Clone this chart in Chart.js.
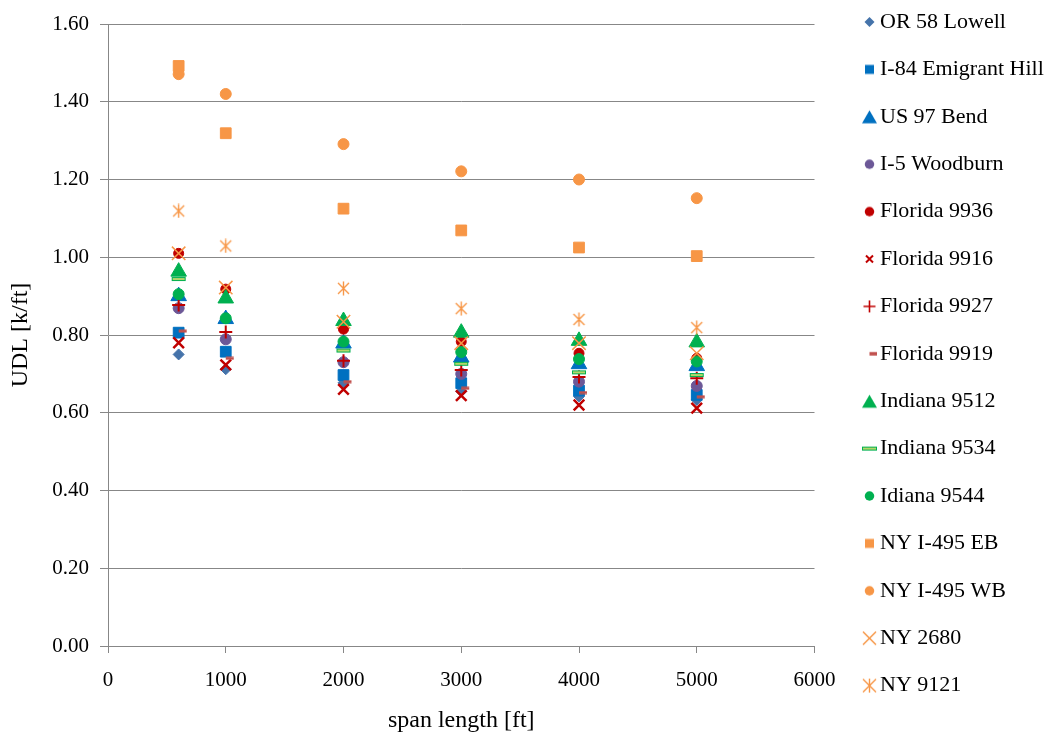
<!DOCTYPE html>
<html>
<head>
<meta charset="utf-8">
<script src="https://cdn.jsdelivr.net/npm/chart.js@4.4.1/dist/chart.umd.min.js"></script>
<style>
html,body{margin:0;padding:0;background:#ffffff;}
#wrap{position:relative;width:1048px;height:738px;}
</style>
</head>
<body>
<div id="wrap"><canvas id="c" width="1048" height="738"></canvas></div>
<script>
// ---- data ----
const spanLengths = [600, 1000, 2000, 3000, 4000, 5000];
const seriesNames = ['OR 58 Lowell','I-84 Emigrant Hill','US 97 Bend','I-5 Woodburn','Florida 9936','Florida 9916','Florida 9927','Florida 9919','Indiana 9512','Indiana 9534','Idiana 9544','NY I-495 EB','NY I-495 WB','NY 2680','NY 9121'];
const or58Lowell      = [0.750, 0.712, 0.677, 0.655, 0.642, 0.633];
const i84EmigrantHill = [0.806, 0.757, 0.697, 0.676, 0.657, 0.646];
const us97Bend        = [0.900, 0.841, 0.778, 0.742, 0.725, 0.720];
const i5Woodburn      = [0.869, 0.789, 0.730, 0.700, 0.680, 0.669];
const florida9936     = [1.010, 0.918, 0.815, 0.783, 0.753, 0.740];
const florida9916     = [0.780, 0.723, 0.660, 0.644, 0.620, 0.612];
const florida9927     = [0.877, 0.808, 0.734, 0.710, 0.692, 0.689];
const florida9919     = [0.810, 0.740, 0.680, 0.663, 0.652, 0.641];
const indiana9512     = [0.963, 0.894, 0.836, 0.806, 0.785, 0.781];
const indiana9534     = [0.944, null,  0.760, 0.726, 0.704, 0.697];
const idiana9544      = [0.905, 0.843, 0.783, 0.756, 0.738, 0.732];
const nyI495EB        = [1.492, 1.319, 1.125, 1.069, 1.025, 1.003];
const nyI495WB        = [1.471, 1.420, 1.291, 1.221, 1.200, 1.152];
const ny2680          = [1.010, 0.922, 0.834, 0.779, 0.779, 0.753];
const ny9121          = [1.119, 1.029, 0.920, 0.868, 0.840, 0.819];
const seriesValues = [or58Lowell,i84EmigrantHill,us97Bend,i5Woodburn,florida9936,florida9916,florida9927,florida9919,indiana9512,indiana9534,idiana9544,nyI495EB,nyI495WB,ny2680,ny9121];
const xTickStep = 1000, xMax = 6000;
const yTickStep = 0.2, yMax = 1.6;

// ---- marker images ----
function mk(w,h,fn){const c=document.createElement('canvas');c.width=w;c.height=h;fn(c.getContext('2d'));return c;}
const dashRed = mk(24,4,g=>{g.fillStyle='#C0504D';g.fillRect(12,0.5,8,3);});
const dashGreen = mk(16,6,g=>{g.fillStyle='#00B050';g.fillRect(1,1,14,4);g.fillStyle='#B3D66A';g.fillRect(2,2,12,2);});
const starOrange = mk(15,15,g=>{g.strokeStyle='#F79646';g.lineWidth=1.4;g.beginPath();
  g.moveTo(2,2);g.lineTo(13,13);g.moveTo(13,2);g.lineTo(2,13);g.moveTo(7.5,0.5);g.lineTo(7.5,14.5);g.stroke();});

// legend icons (drawn around the icon centre)
function icon(fn){return mk(26,20,g=>{g.translate(14.5,10);fn(g);});}
const shp = {
  diamond:(c,s)=>g=>{g.fillStyle=c;g.beginPath();g.moveTo(0,-s);g.lineTo(s,0);g.lineTo(0,s);g.lineTo(-s,0);g.closePath();g.fill();},
  square:(c,s)=>g=>{g.fillStyle=c;g.fillRect(-s/2,-s/2,s,s);},
  tri:(c,w,h)=>g=>{g.fillStyle=c;g.beginPath();g.moveTo(0,-h/2);g.lineTo(w/2,h/2);g.lineTo(-w/2,h/2);g.closePath();g.fill();},
  circle:(c,d)=>g=>{g.fillStyle=c;g.beginPath();g.arc(0,0,d/2,0,Math.PI*2);g.fill();},
  x:(c,s,lw)=>g=>{g.strokeStyle=c;g.lineWidth=lw;g.beginPath();g.moveTo(-s/2,-s/2);g.lineTo(s/2,s/2);g.moveTo(s/2,-s/2);g.lineTo(-s/2,s/2);g.stroke();},
  plus:(c,s,lw)=>g=>{g.strokeStyle=c;g.lineWidth=lw;g.beginPath();g.moveTo(-s/2,0);g.lineTo(s/2,0);g.moveTo(0,-s/2);g.lineTo(0,s/2);g.stroke();},
  star:(c,s,lw)=>g=>{g.strokeStyle=c;g.lineWidth=lw;g.beginPath();g.moveTo(-s/2,-s/2);g.lineTo(s/2,s/2);g.moveTo(s/2,-s/2);g.lineTo(-s/2,s/2);g.moveTo(0,-s/2-0.5);g.lineTo(0,s/2+0.5);g.stroke();},
  dash:(c,x0,w,h)=>g=>{g.fillStyle=c;g.fillRect(x0,-h/2,w,h);},
  dashG:()=>g=>{g.fillStyle='#00B050';g.fillRect(-7.5,-2,15,4);g.fillStyle='#B3D66A';g.fillRect(-6.5,-1,13,2);}
};
const legendIcons = [
  icon(shp.diamond('#4573AA',5)),
  icon(shp.square('#0070C0',9)),
  icon(shp.tri('#0070C0',15,13)),
  icon(shp.circle('#6C5897',9.5)),
  icon(shp.circle('#C00000',9.5)),
  icon(shp.x('#C00000',7,2)),
  icon(shp.plus('#C00000',12,1.6)),
  icon(shp.dash('#C0504D',0,7.5,3.5)),
  icon(shp.tri('#00B050',15,13)),
  icon(shp.dashG()),
  icon(shp.circle('#00B050',9.5)),
  icon(shp.square('#F79646',9)),
  icon(shp.circle('#F79646',9.5)),
  icon(shp.x('#F79646',13,1.5)),
  icon(shp.star('#F79646',13,1.4))
];

const styles = [
  {ps:'rectRot', r:5.5, c:'#4573AA', bw:1},
  {ps:'rect', r:7.6, c:'#0070C0', bw:1},
  {ps:'triangle', r:9, c:'#0070C0', bw:1},
  {ps:'circle', r:5.5, c:'#6C5897', bw:1},
  {ps:'circle', r:5, c:'#C00000', bw:1},
  {ps:'crossRot', r:7.5, c:'#C00000', bw:2.5},
  {ps:'cross', r:6.5, c:'#C00000', bw:2},
  {ps:dashRed, r:6, c:'#C0504D', bw:1},
  {ps:'triangle', r:9, c:'#00B050', bw:1},
  {ps:dashGreen, r:6, c:'#00B050', bw:1},
  {ps:'circle', r:5.5, c:'#00B050', bw:1},
  {ps:'rect', r:7.6, c:'#F79646', bw:1},
  {ps:'circle', r:5.5, c:'#F79646', bw:1},
  {ps:'crossRot', r:9.5, c:'#F79646', bw:1.5},
  {ps:starOrange, r:7, c:'#F79646', bw:1}
];

const datasets = seriesNames.map((name,i)=>({
  label: name,
  data: spanLengths.map((x,j)=>({x:x, y:seriesValues[i][j]})).filter(p=>p.y!==null),
  pointStyle: styles[i].ps,
  pointRadius: styles[i].r,
  backgroundColor: styles[i].c,
  borderColor: styles[i].c,
  borderWidth: styles[i].bw,
  order: seriesNames.length - i,
  showLine: false
}));

const FONT = "'Liberation Serif','Times New Roman',serif";
const GRID = '#878787';
const PLOT_LEFT = 108, PLOT_RIGHT = 814.5, PLOT_BOTTOM_GAP = 92;
const LEGEND_TEXT_X = 880, LEGEND_FIRST_Y = 22;
const LEG_PAD = 25.4, LEG_BOXW = 2, LEG_FONT = 22;

const legendPos = {
  id: 'legendPos',
  afterLayout(chart){
    const lg = chart.legend; if(!lg) return;
    const w = lg.width;
    lg.left = LEGEND_TEXT_X - LEG_PAD - LEG_BOXW - LEG_FONT/2;
    lg.right = lg.left + w;
    lg.top = LEGEND_FIRST_Y - LEG_FONT/2 - LEG_PAD;
    lg.bottom = 738;
  }
};

const chart = new Chart(document.getElementById('c'), {
  type: 'scatter',
  data: { datasets },
  plugins: [legendPos],
  options: {
    responsive: false,
    animation: false,
    devicePixelRatio: 1,
    events: [],
    layout: { padding: {left:0, right:0, top:0, bottom:0} },
    plugins: {
      tooltip: {enabled:false},
      title: {display:true, text:'', font:{size:20, lineHeight:1.2}, padding:{top:0,bottom:0}},
      legend: {
        position: 'right',
        align: 'start',
        labels: {
          usePointStyle: true,
          boxWidth: LEG_BOXW,
          boxHeight: 7,
          padding: LEG_PAD,
          color: '#000000',
          font: {family: FONT, size: LEG_FONT},
          generateLabels(ch){
            const items = Chart.defaults.plugins.legend.labels.generateLabels(ch);
            items.forEach(it=>{ it.pointStyle = legendIcons[it.datasetIndex]; it.rotation = 0; });
            return items;
          },
          sort: (a,b)=>a.datasetIndex-b.datasetIndex
        }
      }
    },
    scales: {
      x: {
        type: 'linear', position: 'bottom', min: 0, max: xMax,
        afterFit: s => { s.height = PLOT_BOTTOM_GAP; },
        ticks: {stepSize: xTickStep, color:'#000', font:{family:FONT, size:21}, padding: 15, callback: v => String(v), maxRotation:0},
        grid: {drawOnChartArea:false, drawTicks:true, tickLength:7, color:GRID, tickColor:GRID, lineWidth:1},
        border: {display:true, color:GRID, width:1},
        title: {display:true, text:'span length [ft]', color:'#000', font:{family:FONT, size:24}, padding:{top:0,bottom:3}}
      },
      y: {
        type: 'linear', position: 'left', min: 0, max: yMax,
        afterFit: s => { s.width = PLOT_LEFT; },
        ticks: {stepSize: yTickStep, color:'#000', font:{family:FONT, size:21}, padding: 11, callback: v => v.toFixed(2)},
        grid: {drawOnChartArea:true, drawTicks:true, tickLength:8, color:GRID, tickColor:GRID, lineWidth:1},
        border: {display:true, color:GRID, width:1},
        title: {display:true, text:'UDL [k/ft]', color:'#000', font:{family:FONT, size:24}, padding:{top:6,bottom:0}}
      }
    }
  }
});
const dx = chart.chartArea.right - PLOT_RIGHT;
if (Math.abs(dx) > 0.1) {
  chart.options.layout.padding = {left:0, top:0, bottom:0, right: Math.max(0, dx)};
  chart.update('none');
}
</script>
</body>
</html>
